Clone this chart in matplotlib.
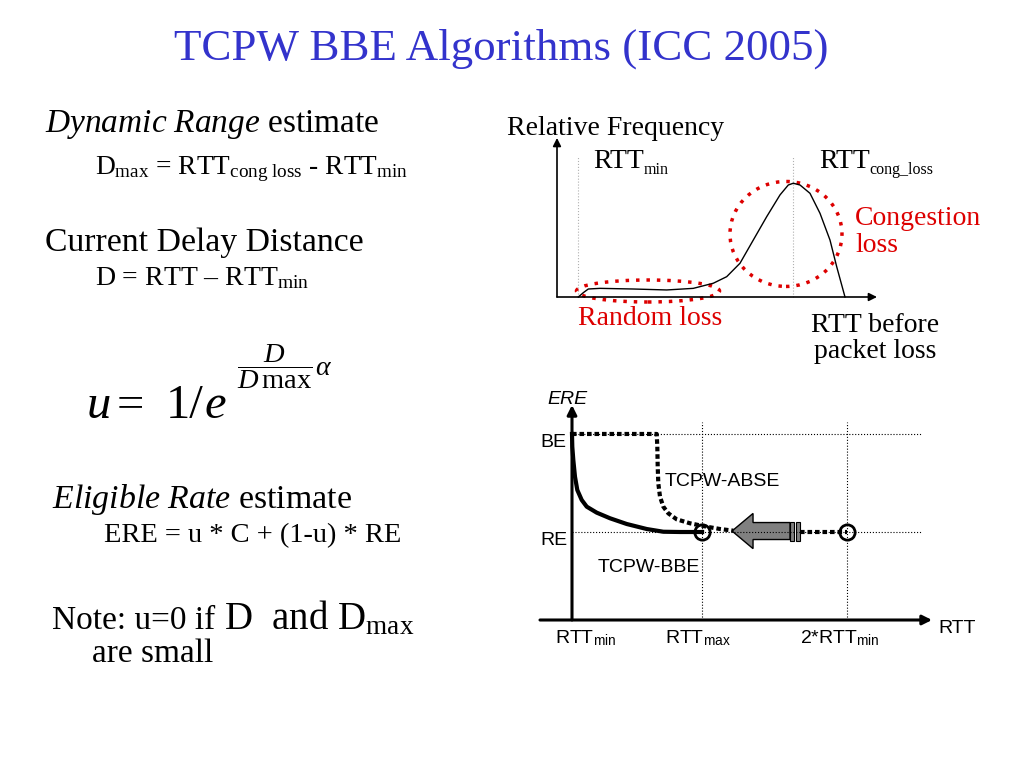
import matplotlib
matplotlib.use('Agg')
import matplotlib.pyplot as plt
from matplotlib.patches import Ellipse, FancyArrow, Rectangle

plt.rcParams['font.family'] = ['Liberation Serif', 'DejaVu Serif']
plt.rcParams['mathtext.fontset'] = 'custom'
plt.rcParams['mathtext.rm'] = 'Liberation Serif'
plt.rcParams['mathtext.it'] = 'Liberation Serif:italic'
plt.rcParams['mathtext.sf'] = 'Liberation Sans'

# --- data: top diagram (RTT before loss vs relative frequency) ---
freq_x = [0.666, 0.822, 0.978, 1.344, 2.375, 3.428, 4.259, 4.884, 5.303, 5.719, 6.134,
          6.553, 6.969, 7.228, 7.384, 7.594, 7.906, 8.219, 8.531, 8.741, 9.0]
freq_y = [0.0, 0.027, 0.05, 0.054, 0.05, 0.044, 0.054, 0.086, 0.127, 0.211, 0.356,
          0.502, 0.638, 0.70, 0.711, 0.70, 0.648, 0.523, 0.356, 0.189, 0.0]
rtt_min_top = 0.666
rtt_cong = 7.384

# --- data: bottom diagram (ERE vs RTT, RTT in units of RTTmin) ---
RE = 1.0
BE = 2.114
rtt_max = 1.473
rtt_2min = 2.0
bbe_x = [1.0, 1.0011, 1.0048, 1.0109, 1.0193, 1.0353, 1.0535, 1.0898, 1.1382,
         1.1989, 1.2716, 1.332, 1.3927, 1.473]
bbe_y = [2.114, 1.969, 1.818, 1.628, 1.477, 1.364, 1.288, 1.22, 1.156,
         1.091, 1.034, 1.003, 1.0, 1.0]
abse_x = [1.0, 1.308, 1.3102, 1.3116, 1.3138, 1.32, 1.332, 1.3502, 1.3807, 1.429,
          1.4898, 1.5382, 1.5866]
abse_y = [2.114, 2.114, 1.969, 1.742, 1.553, 1.401, 1.288, 1.212, 1.144, 1.099,
          1.06, 1.034, 1.015]
abse_tail_x = [1.829, 2.0]
abse_tail_y = [1.0, 1.0]

title = 'TCPW BBE Algorithms (ICC 2005)'
red = '#dd0000'

fig = plt.figure(figsize=(10.24, 7.68), dpi=100)
ov = fig.add_axes([0, 0, 1, 1])
ov.set_xlim(0, 1024)
ov.set_ylim(768, 0)
ov.axis('off')
renderer = fig.canvas.get_renderer()


def px_axes(x0, y0, x1, y1):
    return fig.add_axes([x0 / 1024, 1 - y1 / 768, (x1 - x0) / 1024, (y1 - y0) / 768])


def sub_text(x, y, main, sub, fs, sfs, dy, **kw):
    # main text then a smaller, lowered subscript right after it
    t = ov.text(x, y, main, fontsize=fs, va='baseline', **kw)
    w = t.get_window_extent(renderer).width
    ov.text(x + w, y + dy, sub, fontsize=sfs, va='baseline', **kw)


# title
ov.text(501, 60, title, color='#3333cc', fontsize=32.4, ha='center', va='baseline')

# left column text
ov.text(45, 132, r'$\mathit{Dynamic\ Range}$ estimate', fontsize=24, va='baseline')
ov.text(95, 174, r'D$_{\mathrm{max}}$ = RTT$_{\mathrm{cong\ loss}}$ - RTT$_{\mathrm{min}}$',
        fontsize=19.7, va='baseline')
ov.text(45, 251, 'Current Delay Distance', fontsize=24.3, va='baseline')
ov.text(95, 285, r'D = RTT – RTT$_{\mathrm{min}}$', fontsize=20, va='baseline')

# u formula
ov.text(87, 418, 'u', style='italic', fontsize=35, va='baseline')
ov.text(117, 418, '=', fontsize=35, va='baseline')
ov.text(166, 418, '1/', fontsize=35, va='baseline')
ov.text(205, 418, 'e', style='italic', fontsize=35, va='baseline')
ov.text(237, 376, r'$\dfrac{D}{D\,\mathrm{max}}$', fontsize=20.5, va='baseline')
ov.text(315, 375, 'α', style='italic', fontsize=20, va='baseline')

ov.text(52, 508, r'$\mathit{Eligible\ Rate}$ estimate', fontsize=24.4, va='baseline')
ov.text(104, 542, 'ERE = u * C + (1-u) * RE', fontsize=20.5, va='baseline')
ov.text(52, 629, 'Note: u=0 if', fontsize=24, va='baseline')
ov.text(224, 629, r'D  and D$_{\mathrm{max}}$', fontsize=28, va='baseline')
ov.text(92, 662, 'are small', fontsize=24, va='baseline')

# ---------------- top diagram ----------------
ax1 = px_axes(545, 130, 885, 305)
ax1.set_xlim(-0.375, 10.25)
ax1.set_ylim(-0.05, 1.04375)
ax1.axis('off')
for xv in [rtt_min_top, rtt_cong]:
    ax1.plot([xv, xv], [0, 0.875], color='#b0b0b0', lw=0.8, ls=':')
ax1.annotate('', xy=(0, 0.994), xytext=(0, 0),
             arrowprops=dict(arrowstyle='-|>', color='black', lw=1.2,
                             mutation_scale=12, shrinkA=0, shrinkB=0))
ax1.annotate('', xy=(10.0, 0), xytext=(0, 0),
             arrowprops=dict(arrowstyle='-|>', color='black', lw=1.2,
                             mutation_scale=12, shrinkA=0, shrinkB=0))
ax1.plot(freq_x, freq_y, color='black', lw=1.0)
ax1.add_patch(Ellipse((2.844, 0.0375), 4.47, 0.1375, fill=False, ec=red, lw=2.5,
                      ls=(0, (1, 2))))
ax1.add_patch(Ellipse((7.156, 0.394), 3.5, 0.656, fill=False, ec=red, lw=2.5,
                      ls=(0, (1, 2))))

ov.text(507, 135, 'Relative Frequency', fontsize=20, va='baseline')
sub_text(593, 168, 'RTT', 'min', 20, 11.5, 6)
sub_text(819, 168, 'RTT', 'cong_loss', 20, 11.5, 6)
ov.text(855, 225, 'Congestion', fontsize=20, color=red, va='baseline')
ov.text(855, 252, 'loss', fontsize=20, color=red, va='baseline')
ov.text(578, 325, 'Random loss', fontsize=20, color=red, va='baseline')
ov.text(875, 332, 'RTT before', fontsize=20, ha='center', va='baseline')
ov.text(875, 358, 'packet loss', fontsize=20, ha='center', va='baseline')

# ---------------- bottom diagram ----------------
ax2 = px_axes(530, 400, 940, 625)
ax2.set_xlim(0.8473, 2.338)
ax2.set_ylim(-0.0568, 2.5)
ax2.axis('off')
for yv in [BE, RE]:
    ax2.plot([1.0, 2.273], [yv, yv], color='black', lw=0.8, ls=':')
for xv in [rtt_max, rtt_2min]:
    ax2.plot([xv, xv], [0, 2.25], color='black', lw=0.8, ls=':')
ax2.annotate('', xy=(1.0, 2.443), xytext=(1.0, 0),
             arrowprops=dict(arrowstyle='-|>', color='black', lw=2.2,
                             mutation_scale=14, shrinkA=0, shrinkB=0))
ax2.annotate('', xy=(2.309, 0), xytext=(0.8836, 0),
             arrowprops=dict(arrowstyle='-|>', color='black', lw=2.2,
                             mutation_scale=14, shrinkA=0, shrinkB=0))
ax2.plot(bbe_x, bbe_y, color='black', lw=3, solid_joinstyle='round')
ax2.plot(abse_x, abse_y, color='black', lw=3, ls=(0, (1.1, 0.7)))
ax2.plot(abse_tail_x, abse_tail_y, color='black', lw=3, ls=(0, (1.1, 0.7)))
ax2.add_patch(FancyArrow(1.7927, 1.011, 1.5818 - 1.7927, 0, width=0.193,
                         head_width=0.4, head_length=0.0764,
                         length_includes_head=True, fc='#808080', ec='black', lw=1))
for bx in [1.7927, 1.8145]:
    ax2.add_patch(Rectangle((bx, 0.898), 0.0145, 0.216, fc='#808080', ec='black', lw=0.8))
ax2.plot([rtt_max, rtt_2min], [RE, RE], 'o', ms=11, mfc='none', mec='black', mew=2)

sans = 'Liberation Sans'
ov.text(547, 404, 'ERE', family=sans, style='italic', fontsize=14, va='baseline')
ov.text(540, 447, 'BE', family=sans, fontsize=14, va='baseline')
ov.text(540, 545, 'RE', family=sans, fontsize=14, va='baseline')
ov.text(665, 486, 'TCPW-ABSE', family=sans, fontsize=14, va='baseline')
ov.text(598, 572, 'TCPW-BBE', family=sans, fontsize=14, va='baseline')
ov.text(938, 633, 'RTT', family=sans, fontsize=14, va='baseline')
ov.text(555, 643, r'RTT$_{\mathsf{min}}$', family=sans, fontsize=14, va='baseline')
ov.text(665, 643, r'RTT$_{\mathsf{max}}$', family=sans, fontsize=14, va='baseline')
ov.text(800, 643, r'2*RTT$_{\mathsf{min}}$', family=sans, fontsize=14, va='baseline')

fig.savefig('out.png', dpi=100)
